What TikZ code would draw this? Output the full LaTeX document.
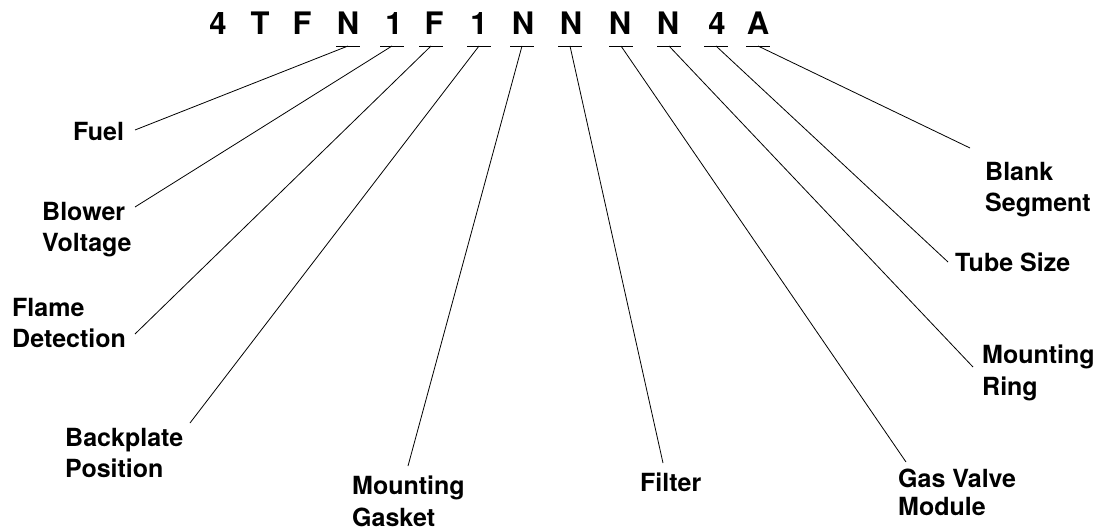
\documentclass[tikz,border=0pt]{standalone}
\usepackage{fontspec}
\setmainfont{TeX Gyre Heros}
\begin{document}
\begin{tikzpicture}[x=1pt,y=-1pt,
  codechar/.style={inner sep=0pt,anchor=base,font=\bfseries\fontsize{31}{36}\selectfont},
  lbl/.style={inner sep=0pt,anchor=north west,align=left,font=\bfseries\fontsize{25}{31.5}\selectfont},
  uline/.style={line width=0.9pt},
  conn/.style={line width=0.8pt}]
\useasboundingbox (0,0) rectangle (1104,532);
% code characters
\node[codechar] (c1) at (218,35) {4};
\node[codechar] (c2) at (260,35) {T};
\node[codechar] (c3) at (302,35) {F};
\node[codechar] (c4) at (348,35) {N};
\node[codechar] (c5) at (394,35) {1};
\node[codechar] (c6) at (434,35) {F};
\node[codechar] (c7) at (479,35) {1};
\node[codechar] (c8) at (523,35) {N};
\node[codechar] (c9) at (571,35) {N};
\node[codechar] (c10) at (620,35) {N};
\node[codechar] (c11) at (668,35) {N};
\node[codechar] (c12) at (717,35) {4};
\node[codechar] (c13) at (758,35) {A};
% underline points
\coordinate (u4) at (348,46);
\coordinate (u5) at (392,46);
\coordinate (u6) at (431,46);
\coordinate (u7) at (479,46);
\coordinate (u8) at (522,46);
\coordinate (u9) at (570,46);
\coordinate (u10) at (621,46);
\coordinate (u11) at (669,46);
\coordinate (u12) at (716,46);
\coordinate (u13) at (758,46);
\foreach \u in {u4,u5,u6,u7,u8,u9,u10,u11,u12,u13}{
  \draw[uline] ([xshift=-12pt]\u) -- ([xshift=12pt]\u);
}
% labels
\node[lbl] (fuel) at (73,122) {Fuel};
\node[lbl] (blower) at (42,202) {Blower\\Voltage};
\node[lbl] (flame) at (12,298) {Flame\\Detection};
\node[lbl] (back) at (65,428) {Backplate\\Position};
\node[lbl] (gasket) at (352,476) {Mounting\\Gasket};
\node[lbl] (filter) at (640,473) {Filter};
\node[lbl,font=\bfseries\fontsize{25}{28}\selectfont] (gas) at (898,469) {Gas Valve\\Module};
\node[lbl] (ring) at (982,345) {Mounting\\Ring};
\node[lbl] (tube) at (955,253) {Tube Size};
\node[lbl] (blank) at (985,162) {Blank\\Segment};
% connector ends
\coordinate (eFuel) at (135,130);
\coordinate (eBlower) at (135,207);
\coordinate (eFlame) at (135,334);
\coordinate (eBack) at (190,423);
\coordinate (eGasket) at (408,466);
\coordinate (eFilter) at (663,463);
\coordinate (eGas) at (906,462);
\coordinate (eRing) at (973,367);
\coordinate (eTube) at (948,262);
\coordinate (eBlank) at (970,148);
% connectors
\draw[conn] (u4) -- (eFuel);
\draw[conn] (u5) -- (eBlower);
\draw[conn] (u6) -- (eFlame);
\draw[conn] (u7) -- (eBack);
\draw[conn] (u8) -- (eGasket);
\draw[conn] (u9) -- (eFilter);
\draw[conn] (u10) -- (eGas);
\draw[conn] (u11) -- (eRing);
\draw[conn] (u12) -- (eTube);
\draw[conn] (u13) -- (eBlank);
\end{tikzpicture}
\end{document}
